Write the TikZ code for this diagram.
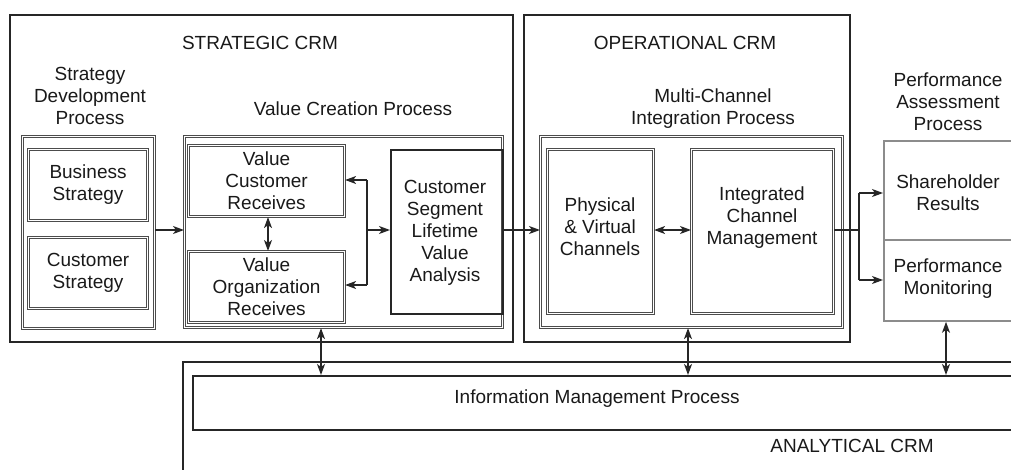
\documentclass[tikz,border=0pt]{standalone}
\usepackage{fontspec}
\setmainfont{Liberation Sans}
\usetikzlibrary{arrows.meta}
\begin{document}
\begin{tikzpicture}[x=1pt,y=-1pt,
  every node/.style={font=\fontsize{19}{22}\selectfont, text=black!90, align=center, inner sep=0pt},
  outerbox/.style={draw=black!85, line width=1.8pt, anchor=north west},
  dblbox/.style={draw=black!70, double=white, double distance=1.1pt, line width=1.1pt, anchor=north west},
  sngbox/.style={draw=black!85, line width=1.7pt, anchor=north west},
  graybox/.style={draw=black!45, line width=1.8pt, anchor=north west},
  conn/.style={draw=black!85, line width=1.4pt},
  arr/.style={conn, -{Stealth[length=11pt,width=8pt,inset=3pt]}},
  darr/.style={conn, {Stealth[length=11pt,width=8pt,inset=3pt]}-{Stealth[length=11pt,width=8pt,inset=3pt]}}
]
\useasboundingbox (0,0) rectangle (1011,469);

% main regions
\node[outerbox, minimum width=503pt, minimum height=327pt] (strat) at (9,14) {};
\node[outerbox, minimum width=326pt, minimum height=327pt] (oper) at (523,14) {};
\coordinate (anbl) at (183,480);
\coordinate (antl) at (183,362);
\coordinate (antr) at (1030,362);
\draw[draw=black!85, line width=1.8pt] (anbl) -- (antl) -- (antr);
\node[sngbox, minimum width=830pt, minimum height=54pt] (info) at (192,375) {};

% titles
\node (tstrat) at (260,43) {STRATEGIC CRM};
\node (toper) at (685,43) {OPERATIONAL CRM};
\node (tanal) at (852,446) {ANALYTICAL CRM};
\node (tinfo) at (597,399) {Information Management Process};
\node (tsdp) at (90,96) {Strategy\\Development\\Process};
\node (tvcp) at (353,109) {Value Creation Process};
\node (tmcip) at (713,109) {Multi-Channel\\Integration Process};
\node (tpap) at (948,102) {Performance\\Assessment\\Process};

% strategy development
\node[dblbox, minimum width=132pt, minimum height=192pt] (sdp) at (22,136) {};
\node[dblbox, minimum width=119pt, minimum height=71pt] (bs) at (28,149) {};
\node at (bs.center) {Business\\Strategy};
\node[dblbox, minimum width=119pt, minimum height=71pt] (cs) at (28,237) {};
\node at (cs.center) {Customer\\Strategy};

% value creation
\node[dblbox, minimum width=318pt, minimum height=191pt] (vcp) at (184,136) {};
\node[dblbox, minimum width=156pt, minimum height=71pt] (vcr) at (188,145) {};
\node at (vcr.center) {Value\\Customer\\Receives};
\node[dblbox, minimum width=156pt, minimum height=71pt] (vor) at (188,251) {};
\node at (vor.center) {Value\\Organization\\Receives};
\node[sngbox, minimum width=112pt, minimum height=164pt] (cslva) at (390,149) {};
\node at (445,233) {Customer\\Segment\\Lifetime\\Value\\Analysis};

% multi-channel
\node[dblbox, minimum width=302pt, minimum height=191pt] (mcip) at (540,136) {};
\node[dblbox, minimum width=106pt, minimum height=164pt] (pvc) at (547,149) {};
\node at (600,227) {Physical\\\& Virtual\\Channels};
\node[dblbox, minimum width=142pt, minimum height=164pt] (icm) at (691,149) {};
\node at (762,218) {Integrated\\Channel\\Management};

% performance assessment
\node[graybox, minimum width=140pt, minimum height=99pt] (shr) at (883,140) {};
\node at (948,193) {Shareholder\\Results};
\node[graybox, minimum width=140pt, minimum height=81pt] (pm) at (883,239) {};
\node at (948,279) {Performance\\Monitoring};

% connectors
\draw[arr] (sdp.east |- 0,230) -- (vcp.west |- 0,230);
\draw[darr] (vcr.south -| 268,0) -- (vor.north -| 268,0);
\coordinate (brm) at (367,230);
\coordinate (brt) at (367,180);
\coordinate (brb) at (367,285);
\draw[conn] (brt) -- (brb);
\draw[arr] (brm) -- (cslva.west |- brm);
\draw[arr] (brt) -- (vcr.east |- brt);
\draw[arr] (brb) -- (vor.east |- brb);
\draw[arr] (cslva.east |- 0,230) -- (mcip.west |- 0,230);
\draw[darr] (pvc.east |- 0,230) -- (icm.west |- 0,230);
\coordinate (spm) at (859,230);
\coordinate (spt) at (859,193);
\coordinate (spb) at (859,280);
\draw[conn] (icm.east |- spm) -- (spm);
\draw[conn] (spt) -- (spb);
\draw[arr] (spt) -- (shr.west |- spt);
\draw[arr] (spb) -- (pm.west |- spb);
\draw[darr] (vcp.south -| 321,0) -- (info.north -| 321,0);
\draw[darr] (mcip.south -| 688,0) -- (info.north -| 688,0);
\draw[darr] (pm.south -| 946,0) -- (info.north -| 946,0);
\end{tikzpicture}
\end{document}
